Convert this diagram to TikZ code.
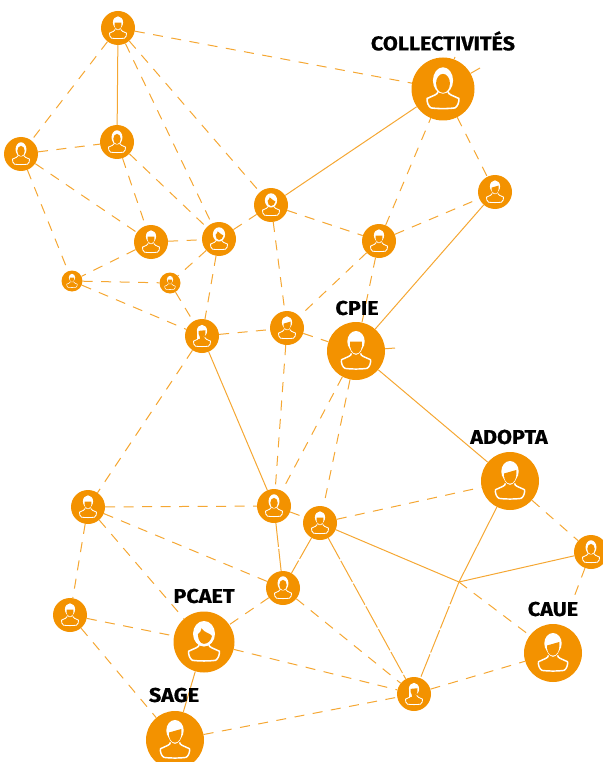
\documentclass[tikz,border=0pt]{standalone}
\usepackage{fontspec}
\setmainfont{Fira Sans}
\newfontfamily\labfont[BoldFeatures={FakeBold=0.6,FakeStretch=1.08}]{Fira Sans}
\usetikzlibrary{backgrounds}
\definecolor{org}{HTML}{F39200}
\definecolor{lin}{HTML}{F5A733}
\tikzset{
 person/.style={circle,fill=org,inner sep=0pt,minimum size=#1*2pt},
 dsh/.style={draw=lin,line width=1pt,dash pattern=on 10pt off 8.5pt},
 sol/.style={draw=lin,line width=1pt},
 lng/.style={draw=lin,line width=1pt,dash pattern=on 24pt off 2pt},
 lab/.style={font=\labfont\fontsize{20}{22}\selectfont\bfseries,text=black,inner sep=0pt}
}
\newcommand{\shoulders}{%
 \draw[white] (-.16,.08) .. controls (-.16,.18) and (-.3,.2) .. (-.5,.3)
  .. controls (-.52,.4) and (-.47,.55) .. (-.38,.6)
  .. controls (-.15,.63) and (.15,.63) .. (.38,.6)
  .. controls (.47,.55) and (.52,.4) .. (.5,.3)
  .. controls (.3,.2) and (.16,.18) .. (.16,.08);}
% who{node}{radius}{type}
\newcommand{\who}[3]{%
 \begin{scope}[shift={(#1.center)},scale=#2,line width=#2*0.05pt]
  \shoulders
  \csname hair#3\endcsname
 \end{scope}}
\newcommand{\hairA}{% bob
 \fill[white] (0,-.27) ellipse[x radius=.32,y radius=.42];
 \fill[org] (0,-.18) ellipse[x radius=.22,y radius=.3];}
\newcommand{\hairB}{% short with straight fringe
 \fill[white] (0,-.33) ellipse[x radius=.3,y radius=.36];
 \fill[white] (-.25,-.3) .. controls (-.26,-.05) and (-.12,.13) .. (0,.13) .. controls (.12,.13) and (.26,-.05) .. (.25,-.3) -- cycle;
 \fill[org] (-.2,-.32) -- (.2,-.32) .. controls (.23,-.05) and (.12,.09) .. (0,.09) .. controls (-.12,.09) and (-.23,-.05) .. cycle;}
\newcommand{\hairS}{% short with slanted fringe
 \fill[white] (0,-.33) ellipse[x radius=.3,y radius=.36];
 \fill[white] (-.25,-.3) .. controls (-.26,-.05) and (-.12,.13) .. (0,.13) .. controls (.12,.13) and (.26,-.05) .. (.25,-.3) -- cycle;
 \fill[org] (-.2,-.26) -- (.22,-.38) .. controls (.24,-.05) and (.12,.09) .. (0,.09) .. controls (-.12,.09) and (-.23,-.05) .. cycle;}
\newcommand{\hairD}{% side-swept hair
 \fill[white] (0,-.27) ellipse[x radius=.36,y radius=.42];
 \fill[org] (-.2,-.25) .. controls (-.1,-.3) and (-.1,-.4) .. (-.08,-.45) .. controls (0,-.3) and (.2,-.3) .. (.26,-.2)
  .. controls (.24,-.05) and (.12,.06) .. (0,.06) .. controls (-.12,.06) and (-.2,-.08) .. cycle;}
\newcommand{\hairL}{% long hair falling on one side
 \fill[white] (0,-.3) ellipse[x radius=.3,y radius=.36];
 \fill[white] (-.3,-.3) rectangle (.0,.2);
 \fill[org] (-.2,-.3) -- (.2,-.34) .. controls (.24,-.05) and (.12,.07) .. (.03,.07) -- (.03,.32) -- (-.13,.32) -- (-.13,.05) .. controls (-.2,-.05) and (-.22,-.2) .. cycle;}
\begin{document}
\begin{tikzpicture}[x=1pt,y=-1pt]
\useasboundingbox (0,0) rectangle (602,762);
\node[person=17] (top) at (118,28) {};
\node[person=17] (b) at (21,154) {};
\node[person=17] (c) at (117,142) {};
\node[person=17] (d) at (151,242) {};
\node[person=17] (e) at (219,239) {};
\node[person=10.5] (f) at (72,281) {};
\node[person=10.5] (g) at (170,283) {};
\node[person=17] (h) at (202,336) {};
\node[person=17] (i) at (271,205) {};
\node[person=17] (j) at (379,241) {};
\node[person=17] (k) at (495,192) {};
\node[person=31.5] (coll) at (443,89) {};
\node[person=17] (l) at (287,328) {};
\node[person=29] (cpie) at (356,351) {};
\node[person=17] (m) at (88,507) {};
\node[person=17] (n) at (274,506) {};
\node[person=17] (o) at (320,523) {};
\node[person=17] (p) at (283,588) {};
\node[person=17] (q) at (70,615) {};
\node[person=30.5] (pcaet) at (204,642) {};
\node[person=29] (sage) at (175,740) {};
\node[person=17] (r) at (414,694) {};
\node[person=29] (caue) at (553,653) {};
\node[person=29] (adopta) at (510,481) {};
\node[person=17] (s) at (591,552) {};
\coordinate (x) at (459,582);
\coordinate (st1) at (455,57);
\coordinate (st2) at (480,68);
\coordinate (st3) at (395,348);
\begin{scope}[on background layer]
 \draw[dsh] (top) -- (coll);
 \draw[dsh] (top) -- (b);
 \draw[sol] (top) -- (c);
 \draw[dsh] (top) -- (e);
 \draw[dsh] (top) -- (i);
 \draw[dsh] (b) -- (c);
 \draw[dsh] (b) -- (d);
 \draw[dsh] (b) -- (f);
 \draw[dsh] (c) -- (d);
 \draw[dsh] (c) -- (e);
 \draw[dsh] (d) -- (e);
 \draw[dsh] (d) -- (f);
 \draw[dsh] (e) -- (g);
 \draw[dsh] (e) -- (h);
 \draw[dsh] (e) -- (i);
 \draw[dsh] (f) -- (g);
 \draw[dsh] (f) -- (h);
 \draw[dsh] (g) -- (h);
 \draw[sol] (i) -- (coll);
 \draw[dsh] (i) -- (j);
 \draw[dsh] (i) -- (l);
 \draw[dsh] (j) -- (k);
 \draw[dsh] (j) -- (coll);
 \draw[dsh] (coll) -- (k);
 \draw[dsh] (j) -- (l);
 \draw[dsh] (j) -- (cpie);
 \draw[sol] (k) -- (cpie);
 \draw[dsh] (l) -- (cpie);
 \draw[dsh] (h) -- (l);
 \draw[sol] (h) -- (n);
 \draw[dsh] (h) -- (m);
 \draw[dsh] (cpie) -- (n);
 \draw[dsh] (cpie) -- (o);
 \draw[sol] (cpie) -- (adopta);
 \draw[dsh] (l) -- (n);
 \draw[dsh] (m) -- (n);
 \draw[dsh] (m) -- (p);
 \draw[dsh] (m) -- (pcaet);
 \draw[dsh] (m) -- (q);
 \draw[dsh] (n) -- (o);
 \draw[lng] (n) -- (p);
 \draw[lng] (o) -- (p);
 \draw[dsh] (o) -- (adopta);
 \draw[lng] (o) -- (r);
 \draw[sol] (o) -- (x);
 \draw[dsh] (x) -- (caue);
 \draw[dsh] (adopta) -- (s);
 \draw[sol] (adopta) -- (x);
 \draw[lng] (x) -- (r);
 \draw[sol] (s) -- (x);
 \draw[dsh,shorten >=25pt] (s) -- (caue);
 \draw[dsh] (p) -- (r);
 \draw[dsh] (p) -- (pcaet);
 \draw[dsh] (q) -- (pcaet);
 \draw[dsh] (q) -- (sage);
 \draw[dsh] (pcaet) -- (r);
 \draw[sol] (pcaet) -- (sage);
 \draw[dsh] (sage) -- (r);
 \draw[dsh] (r) -- (caue);
 \draw[sol] (coll) -- (st1);
 \draw[sol] (coll) -- (st2);
 \draw[sol] (cpie) -- (st3);
\end{scope}
\who{top}{17}{B}\who{b}{17}{A}\who{c}{17}{A}\who{d}{17}{B}\who{e}{17}{D}
\who{f}{10.5}{B}\who{g}{10.5}{B}\who{h}{17}{L}\who{i}{17}{D}\who{j}{17}{B}
\who{k}{17}{S}\who{coll}{31.5}{A}\who{l}{17}{S}\who{cpie}{29}{B}\who{m}{17}{B}
\who{n}{17}{A}\who{o}{17}{B}\who{p}{17}{A}\who{q}{17}{B}\who{pcaet}{30.5}{D}
\who{sage}{29}{S}\who{r}{17}{L}\who{caue}{29}{S}\who{adopta}{29}{S}\who{s}{17}{A}
\node[lab] (tcoll) at (443,41) {COLLECTIVITÉS};
\node[lab] (tcpie) at (357,308) {CPIE};
\node[lab] (tadopta) at (509,437) {ADOPTA};
\node[lab] (tcaue) at (553,609) {CAUE};
\node[lab] (tpcaet) at (204,596) {PCAET};
\node[lab] (tsage) at (174,695) {SAGE};
\end{tikzpicture}
\end{document}
